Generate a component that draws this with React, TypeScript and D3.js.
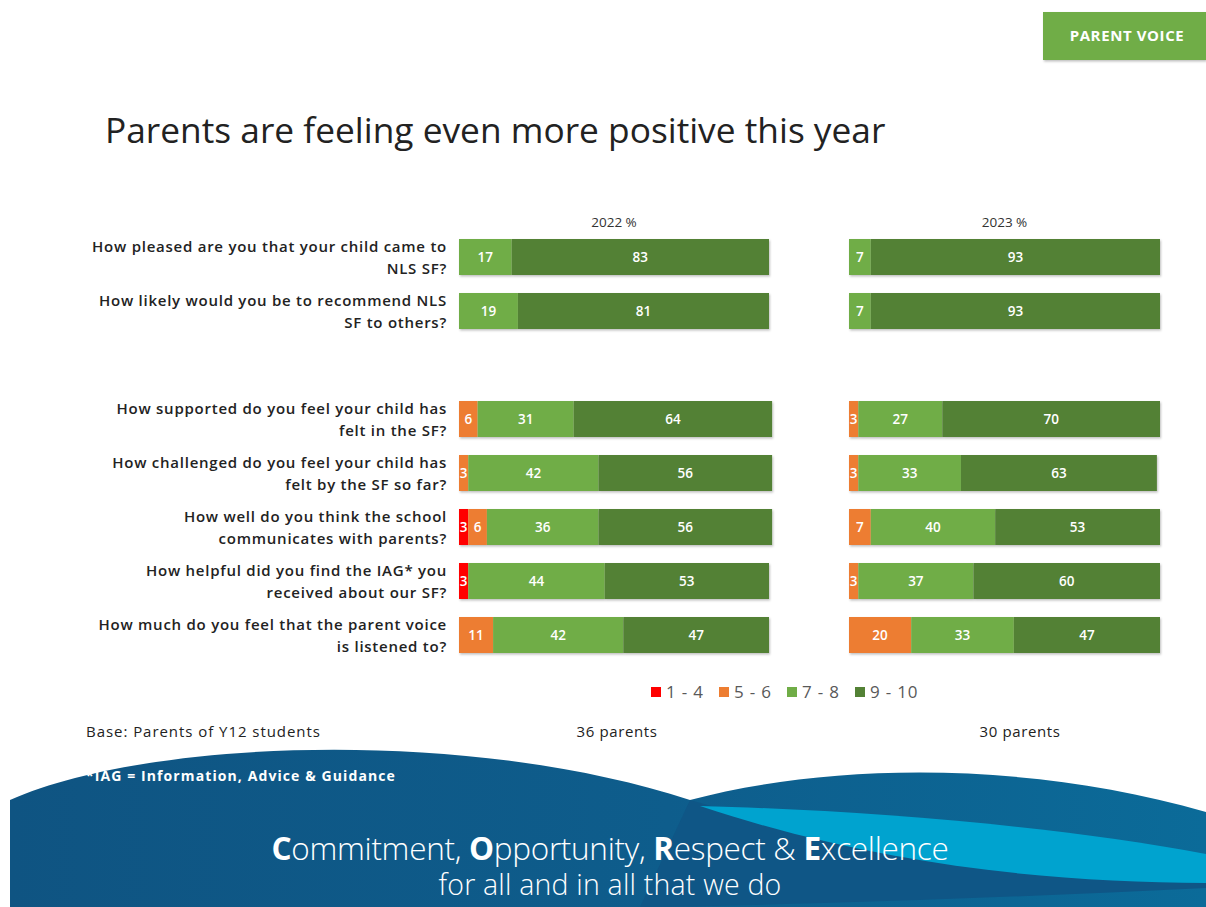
import * as d3 from "d3";

const W = 1206;
const H = 907;

const QUESTIONS: string[][] = [
  ["How pleased are you that your child came to", "NLS SF?"],
  ["How likely would you be to recommend NLS", "SF to others?"],
  ["How supported do you feel your child has", "felt in the SF?"],
  ["How challenged do you feel your child has", "felt by the SF so far?"],
  ["How well do you think the school", "communicates with parents?"],
  ["How helpful did you find the IAG* you", "received about our SF?"],
  ["How much do you feel that the parent voice", "is listened to?"],
];

// score bands: 1-4, 5-6, 7-8, 9-10
const BANDS = ["1 - 4", "5 - 6", "7 - 8", "9 - 10"];
const BAND_COLORS = ["#ff0000", "#ed7d31", "#70ad47", "#538135"];

const VALUES_2022 = [
  [0, 0, 17, 83],
  [0, 0, 19, 81],
  [0, 6, 31, 64],
  [0, 3, 42, 56],
  [3, 6, 36, 56],
  [3, 0, 44, 53],
  [0, 11, 42, 47],
];
const VALUES_2023 = [
  [0, 0, 7, 93],
  [0, 0, 7, 93],
  [0, 3, 27, 70],
  [0, 3, 33, 63],
  [0, 7, 40, 53],
  [0, 3, 37, 60],
  [0, 20, 33, 47],
];

const PANELS = [
  { header: "2022 %", base: "36 parents", values: VALUES_2022, x0: 459, x1: 769, baseX: 617 },
  { header: "2023 %", base: "30 parents", values: VALUES_2023, x0: 849, x1: 1160, baseX: 1020 },
];

const FONT = "'Open Sans', 'DejaVu Sans', sans-serif";

// first two questions, then an empty row, then the rest
const slotOf = (i: number) => (i < 2 ? i : i + 1);

export default function App() {
  const y = d3
    .scaleBand<number>()
    .domain(d3.range(8))
    .range([230, 230 + 8 * 54])
    .paddingInner(1 / 3)
    .paddingOuter(1 / 6);
  const bw = y.bandwidth();

  const stack = d3
    .stack<number[], number>()
    .keys(d3.range(BANDS.length))
    .value((d, k) => d[k]);

  return (
    <svg width={W} height={H} style={{ position: "absolute", left: 0, top: 0, background: "#fff" }}>
      <defs>
        <filter id="shadow" x="-5%" y="-20%" width="110%" height="150%">
          <feDropShadow dx="1" dy="1.5" stdDeviation="1" floodColor="#000" floodOpacity="0.25" />
        </filter>
        <linearGradient id="seaBase" x1="0" x2="1" y1="0" y2="0">
          <stop offset="0" stopColor="#0f5482" />
          <stop offset="0.55" stopColor="#0e5d8c" />
          <stop offset="1" stopColor="#0b6b99" />
        </linearGradient>
      </defs>

      {/* header tag */}
      <rect x={1043} y={12} width={163} height={48} fill="#70ad47" filter="url(#shadow)" />
      <text x={1127} y={41} textAnchor="middle" fill="#fff" fontFamily={FONT} fontWeight={700} fontSize={15} letterSpacing={0.6}>
        PARENT VOICE
      </text>

      {/* title */}
      <text x={105} y={143} fill="#222" fontFamily={FONT} fontSize={35.3}>
        Parents are feeling even more positive this year
      </text>

      {/* question labels */}
      {QUESTIONS.map((q, i) => {
        const cy = (y(slotOf(i)) as number) + bw / 2;
        return (
          <text key={i} textAnchor="end" fill="#222" fontFamily={FONT} fontSize={15} fontWeight={600} letterSpacing={0.75}>
            <tspan x={447} y={cy - 5}>{q[0]}</tspan>
            <tspan x={447} y={cy + 17}>{q[1]}</tspan>
          </text>
        );
      })}

      {PANELS.map((p, pi) => {
        const x = d3.scaleLinear().domain([0, 100]).range([p.x0, p.x1]);
        const series = stack(p.values);
        return (
          <g key={pi}>
            <text x={(p.x0 + p.x1) / 2} y={227} textAnchor="middle" fill="#333" fontFamily={FONT} fontSize={13.5}>
              {p.header}
            </text>
            {p.values.map((_, ri) => (
              <g key={ri} filter="url(#shadow)">
                {series.map((s, si) => {
                  const d = s[ri];
                  if (d[1] - d[0] <= 0) return null;
                  return (
                    <rect
                      key={si}
                      x={x(d[0])}
                      y={y(slotOf(ri))}
                      width={x(d[1]) - x(d[0])}
                      height={bw}
                      fill={BAND_COLORS[si]}
                    />
                  );
                })}
              </g>
            ))}
            {p.values.map((row, ri) =>
              series.map((s, si) => {
                const d = s[ri];
                if (row[si] <= 0) return null;
                return (
                  <text
                    key={`${ri}-${si}`}
                    x={x((d[0] + d[1]) / 2)}
                    y={(y(slotOf(ri)) as number) + bw / 2 + 5}
                    textAnchor="middle"
                    fill="#fff"
                    fontFamily={FONT}
                    fontSize={13.5}
                    fontWeight={600}
                  >
                    {row[si]}
                  </text>
                );
              })
            )}
            <text x={p.baseX} y={737} textAnchor="middle" fill="#222" fontFamily={FONT} fontSize={15} letterSpacing={0.6}>
              {p.base}
            </text>
          </g>
        );
      })}

      {/* legend */}
      {BANDS.map((b, i) => (
        <g key={b} transform={`translate(${651 + i * 68},687)`}>
          <rect width={10} height={10} fill={BAND_COLORS[i]} />
          <text x={15} y={11} fill="#595959" fontFamily={FONT} fontSize={17} letterSpacing={0.8}>
            {b}
          </text>
        </g>
      ))}

      <text x={86} y={737} fill="#222" fontFamily={FONT} fontSize={15} letterSpacing={0.95}>
        Base: Parents of Y12 students
      </text>

      {/* footer waves */}
      <path
        d={`M10,907 L10,800 C150,738 470,728 690,800 C820,765 1020,758 1206,812 L1206,907 Z`}
        fill="url(#seaBase)"
      />
      <path
        d={`M690,800 C860,850 1020,872 1206,868 L1206,888 C1000,898 800,905 640,907 L690,800 Z`}
        fill="#0f5686"
      />
      <path
        d={`M700,806 C860,810 1060,826 1206,854 L1206,883 C1050,882 880,866 700,806 Z`}
        fill="#00a3cf"
      />
      <text x={86} y={781} fill="#fff" fontFamily={FONT} fontSize={14} fontWeight={700} letterSpacing={1.1}>
        *IAG = Information, Advice &amp; Guidance
      </text>
      <text x={610} y={860} textAnchor="middle" fill="#fff" fontFamily={FONT} fontSize={31.5} fontWeight={300} letterSpacing={-0.3}>
        <tspan fontWeight={700}>C</tspan>ommitment, <tspan fontWeight={700}>O</tspan>pportunity,{" "}
        <tspan fontWeight={700}>R</tspan>espect &amp; <tspan fontWeight={700}>E</tspan>xcellence
      </text>
      <text x={610} y={895} textAnchor="middle" fill="#fff" fontFamily={FONT} fontSize={28.5} fontWeight={300} letterSpacing={0.2}>
        for all and in all that we do
      </text>
    </svg>
  );
}
